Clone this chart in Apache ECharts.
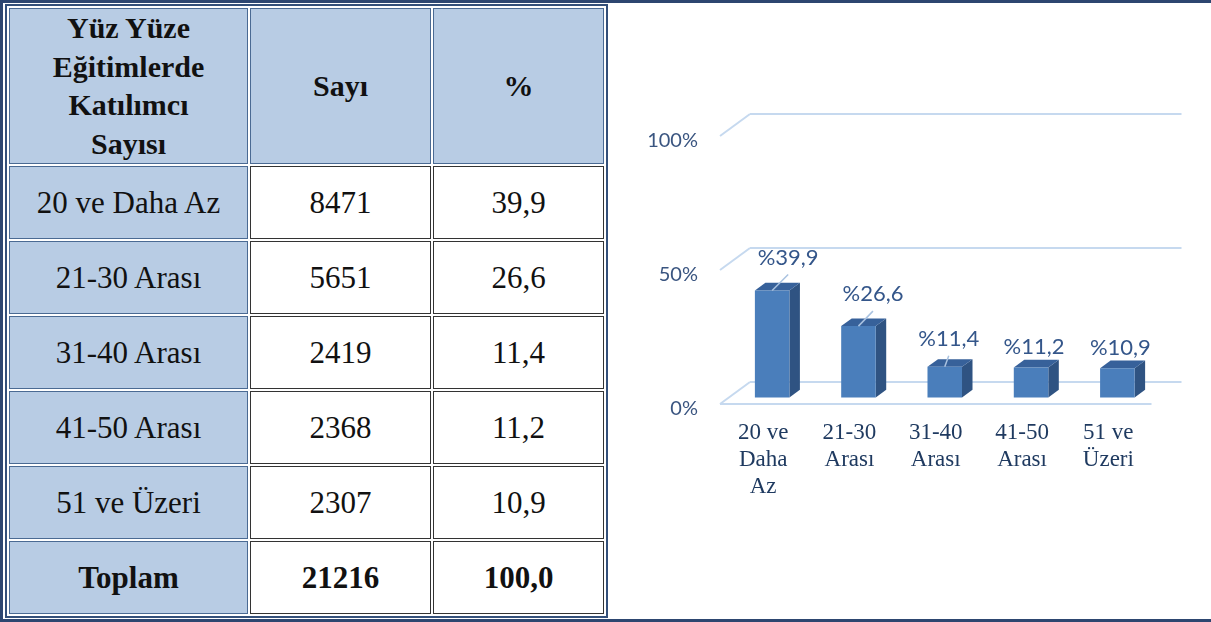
<!DOCTYPE html>
<html>
<head>
<meta charset="utf-8">
<script src="https://cdn.jsdelivr.net/npm/echarts@6/dist/echarts.min.js"></script>
<style>
    html, body{margin:0;padding:0;background:#fff;}
    #page{position:relative;width:1211px;height:622px;overflow:hidden;}
    #frame{position:absolute;left:0;top:0;width:1211px;height:622px;box-sizing:border-box;z-index:3;pointer-events:none;
        border-top:3px solid #2d4670;border-left:3px solid #2d4670;border-bottom:3px solid #2d4670;}
    #chart{position:absolute;left:0;top:0;width:1211px;height:622px;}
    #ageTable{position:absolute;left:5px;top:4px;z-index:2;border:2px solid #34507a;border-spacing:2px;border-collapse:separate;
        font-family:'Liberation Serif', 'Times New Roman', serif;color:#111;background:#fff;table-layout:fixed;}
    #ageTable th, #ageTable td{box-sizing:border-box;text-align:center;vertical-align:middle;padding:0;border:1px solid #333;
        font-size:31px;background:#fff;height:73px;}
    #ageTable th{background:#b8cce4;border-color:#4a6a93;font-size:30px;line-height:38.5px;font-weight:bold;height:156px;}
    #ageTable td.grp{background:#b8cce4;border-color:#4a6a93;}
    #ageTable tr.total td{font-weight:bold;}
</style>
</head>
<body>
<div id="page">
    <div id="chart"></div>
    <table id="ageTable"></table>
    <div id="frame"></div>
</div>

<script>
    // tablo verisi
    var groups = ['20 ve Daha Az', '21-30 Arası', '31-40 Arası', '41-50 Arası', '51 ve Üzeri'];
    var counts = [8471, 5651, 2419, 2368, 2307];
    var percents = [39.9, 26.6, 11.4, 11.2, 10.9];
    var totalCount = 21216;
    var totalPercent = 100.0;
    var headers = ['Yüz Yüze<br>Eğitimlerde<br>Katılımcı<br>Sayısı', 'Sayı', '%'];

    // grafik verisi
    var chartLabels = ['20 ve\nDaha\nAz', '21-30\nArası', '31-40\nArası', '41-50\nArası', '51 ve\nÜzeri'];
    var yTicks = [0, 50, 100];

    function fmt(v){ return v.toFixed(1).replace('.', ','); }

    //tabloyu kur
    var colW = [239, 181, 171];
    var html = '<tr>' + headers.map(function(h, i){ return '<th style="width:' + colW[i] + 'px">' + h + '</th>'; }).join('') + '</tr>';
    groups.forEach(function(g, i){
        html += '<tr><td class="grp">' + g + '</td><td>' + counts[i] + '</td><td>' + fmt(percents[i]) + '</td></tr>';
    });
    html += '<tr class="total"><td class="grp">Toplam</td><td>' + totalCount + '</td><td>' + fmt(totalPercent) + '</td></tr>';
    document.getElementById('ageTable').innerHTML = html;

    // 3B görünüm ayarları
    var DX = 30, DY = -22;          // zemin derinliği
    var BAR_POS = 0.3;              // sütun ön yüzünün derinliği
    var SIDE = 0.35;                // sütun kalınlığı
    var lineColor = '#c6d9ef';
    var labelNudge = [[13, -13], [11.5, -12], [1, -8], [0, 0], [0, 0]];

    function renderGrid(params, api){
        var cs = params.coordSys;
        var v = api.value(1);
        var y = api.coord([0, v])[1];
        var L = cs.x, R = cs.x + cs.width;
        var st = {stroke: lineColor, lineWidth: 2};
        var children = [
            {type:'line', shape:{x1:L + DX, y1:y + DY, x2:R + DX, y2:y + DY}, style:st},
            {type:'line', shape:{x1:L, y1:y, x2:L + DX, y2:y + DY}, style:st}
        ];
        if (v === 0) {
            children.push({type:'line', shape:{x1:L, y1:y, x2:R, y2:y}, style:st});
        }
        return {type:'group', children:children};
    }

    function renderBar(params, api){
        var i = api.value(0), v = api.value(1);
        var top = api.coord([i, v]), base = api.coord([i, 0]);
        var w = api.size([1, 0])[0] * 0.4;
        var cx = top[0] + DX * BAR_POS;
        var x0 = cx - w / 2, x1 = cx + w / 2;
        var yt = top[1] + DY * BAR_POS, yb = base[1] + DY * BAR_POS;
        var sx = DX * SIDE, sy = DY * SIDE;
        var n = labelNudge[i];
        var lx = cx + 3 + n[0], ly = yt - 20 + n[1];
        var children = [
            {type:'polygon', shape:{points:[[x1, yt], [x1 + sx, yt + sy], [x1 + sx, yb + sy], [x1, yb]]}, style:{fill:'#2f5382'}},
            {type:'polygon', shape:{points:[[x0, yt], [x0 + sx, yt + sy], [x1 + sx, yt + sy], [x1, yt]]}, style:{fill:'#37619a'}},
            {type:'rect', shape:{x:x0, y:yt, width:w, height:yb - yt}, style:{fill:'#4a7ebb'}},
            {type:'text', x:lx, y:ly, style:{text:'%' + fmt(v), fill:'#34568a', font:'22px Lato', align:'center', verticalAlign:'middle'}}
        ];
        if (n[0] !== 0 || n[1] !== 0) {
            children.push({type:'line', shape:{x1:cx, y1:yt, x2:lx, y2:ly + 17}, style:{stroke:'#a9c2e0', lineWidth:1.5}});
        }
        return {type:'group', children:children};
    }

    var myChart = echarts.init(document.getElementById('chart'));
    var option = {
        animation:false,
        grid:{left:720, top:136, width:431.5, height:268},
        xAxis:{
            type:'category',
            data:chartLabels,
            axisLine:{show:false},
            axisTick:{show:false},
            axisLabel:{interval:0, color:'#1f3a60', fontFamily:'Liberation Serif', fontSize:23, lineHeight:27, margin:15}
        },
        yAxis:{
            type:'value',
            min:0,
            max:100,
            interval:50,
            splitLine:{show:false},
            axisLine:{show:false},
            axisTick:{show:false},
            axisLabel:{
                formatter:'{p|{value}%}',
                margin:22,
                rich:{p:{color:'#3a5580', fontFamily:'Lato', fontSize:20, padding:[10, 0, 0, 0]}}
            }
        },
        series:[
            {type:'custom', renderItem:renderGrid, data:yTicks.map(function(v){ return [0, v]; }), silent:true, z:1},
            {type:'custom', renderItem:renderBar, data:percents.map(function(v, i){ return [i, v]; }), z:2}
        ]
    };
    myChart.setOption(option, true);
</script>
</body>
</html>
